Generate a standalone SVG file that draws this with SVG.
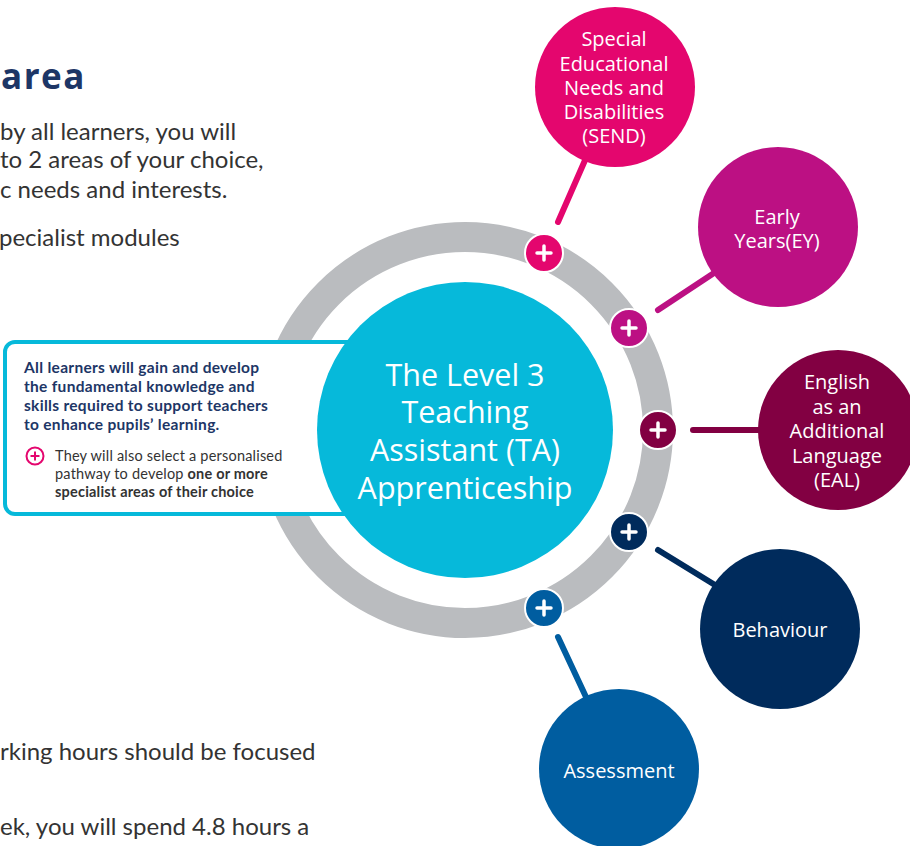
<svg xmlns="http://www.w3.org/2000/svg" width="910" height="846" viewBox="0 0 910 846">
  <style>
    .body { font-family: Lato, "Liberation Sans", sans-serif; font-size: 24px; fill: #333333; }
    .head { font-family: "Open Sans", "Liberation Sans", sans-serif; font-weight: 700; font-size: 35px; letter-spacing: 1.5px; fill: #1D3666; }
    .note-b { font-family: Lato, "Liberation Sans", sans-serif; font-weight: 700; font-size: 15.5px; letter-spacing: 0.3px; fill: #1D3666; }
    .note { font-family: Lato, "Liberation Sans", sans-serif; font-size: 14.5px; letter-spacing: 0.2px; fill: #333333; }
    .hub-text { font-family: "Open Sans", "Liberation Sans", sans-serif; font-size: 30.5px; fill: #ffffff; text-anchor: middle; }
    .leaf-text { font-family: "Open Sans", "Liberation Sans", sans-serif; font-weight: 500; font-size: 20px; fill: #ffffff; text-anchor: middle; }
    .link { stroke-width: 6; stroke-linecap: round; fill: none; }
    .plus { stroke: #ffffff; stroke-width: 2; }
    .plus-mark { stroke: #ffffff; stroke-width: 3.5; stroke-linecap: round; }
  </style>
  <defs>
    <g id="plus-glyph">
      <line class="plus-mark" x1="-7" y1="0" x2="7" y2="0"/>
      <line class="plus-mark" x1="0" y1="-7" x2="0" y2="7"/>
    </g>
  </defs>

  <rect width="910" height="846" fill="#ffffff"/>

  <!-- page copy behind the diagram -->
  <g id="page-text">
    <text class="head" x="1" y="89">area</text>
    <text class="body" x="0" y="140">by all learners, you will</text>
    <text class="body" x="0" y="168">to 2 areas of your choice,</text>
    <text class="body" x="0" y="198">c needs and interests.</text>
    <text class="body" x="-1" y="246">pecialist modules</text>
    <text class="body" x="0" y="760">rking hours should be focused</text>
    <text class="body" x="0" y="835">ek, you will spend 4.8 hours a</text>
  </g>

  <!-- grey ring -->
  <circle id="ring" cx="465" cy="430" r="193" fill="none" stroke="#BABCBF" stroke-width="30"/>

  <!-- callout box -->
  <g id="callout">
    <rect x="5" y="342" width="380" height="172" rx="10" fill="#ffffff" stroke="#06B9DA" stroke-width="4"/>
    <text class="note-b" x="24" y="373">All learners will gain and develop</text>
    <text class="note-b" x="24" y="392">the fundamental knowledge and</text>
    <text class="note-b" x="24" y="411">skills required to support teachers</text>
    <text class="note-b" x="24" y="430">to enhance pupils’ learning.</text>
    <circle cx="35" cy="456" r="8.5" fill="none" stroke="#E4066E" stroke-width="2"/>
    <line x1="30.5" y1="456" x2="39.5" y2="456" stroke="#E4066E" stroke-width="2"/>
    <line x1="35" y1="451.5" x2="35" y2="460.5" stroke="#E4066E" stroke-width="2"/>
    <text class="note" x="55" y="461">They will also select a personalised</text>
    <text class="note" x="55" y="479">pathway to develop <tspan font-weight="700">one or more</tspan></text>
    <text class="note" x="55" y="497"><tspan font-weight="700">specialist areas of their choice</tspan></text>
  </g>

  <!-- central hub -->
  <g id="hub">
    <circle cx="465" cy="430" r="148" fill="#06B9DA"/>
    <text class="hub-text" x="465" y="386">The Level 3</text>
    <text class="hub-text" x="465" y="423">Teaching</text>
    <text class="hub-text" x="465" y="461">Assistant (TA)</text>
    <text class="hub-text" x="465" y="499">Apprenticeship</text>
  </g>

  <!-- connectors -->
  <g id="connectors">
    <line class="link" stroke="#E4066E" x1="558" y1="222" x2="586" y2="158"/>
    <line class="link" stroke="#BC1083" x1="658" y1="310" x2="714" y2="273"/>
    <line class="link" stroke="#820042" x1="693" y1="430" x2="760" y2="430"/>
    <line class="link" stroke="#002B5C" x1="658" y1="550" x2="715" y2="585"/>
    <line class="link" stroke="#005DA0" x1="558" y1="637" x2="586" y2="697"/>
  </g>

  <!-- plus markers on the ring -->
  <g id="markers">
    <g transform="translate(544,253)"><circle class="plus" r="19" fill="#E4066E"/><use href="#plus-glyph"/></g>
    <g transform="translate(629,328)"><circle class="plus" r="19" fill="#BC1083"/><use href="#plus-glyph"/></g>
    <g transform="translate(658,430)"><circle class="plus" r="19" fill="#820042"/><use href="#plus-glyph"/></g>
    <g transform="translate(629,532)"><circle class="plus" r="19" fill="#002B5C"/><use href="#plus-glyph"/></g>
    <g transform="translate(544,608)"><circle class="plus" r="19" fill="#005DA0"/><use href="#plus-glyph"/></g>
  </g>

  <!-- specialist areas -->
  <g id="send">
    <circle cx="615" cy="87" r="80" fill="#E4066E"/>
    <text class="leaf-text" x="614" y="46">Special</text>
    <text class="leaf-text" x="614" y="71">Educational</text>
    <text class="leaf-text" x="614" y="95">Needs and</text>
    <text class="leaf-text" x="614" y="119">Disabilities</text>
    <text class="leaf-text" x="614" y="143">(SEND)</text>
  </g>
  <g id="early-years">
    <circle cx="778" cy="227" r="80" fill="#BC1083"/>
    <text class="leaf-text" x="777" y="224">Early</text>
    <text class="leaf-text" x="777" y="248">Years(EY)</text>
  </g>
  <g id="eal">
    <circle cx="838" cy="430" r="80" fill="#820042"/>
    <text class="leaf-text" x="837" y="389">English</text>
    <text class="leaf-text" x="837" y="414">as an</text>
    <text class="leaf-text" x="837" y="438">Additional</text>
    <text class="leaf-text" x="837" y="463">Language</text>
    <text class="leaf-text" x="837" y="487">(EAL)</text>
  </g>
  <g id="behaviour">
    <circle cx="780" cy="629" r="80" fill="#002B5C"/>
    <text class="leaf-text" x="780" y="637">Behaviour</text>
  </g>
  <g id="assessment">
    <circle cx="619" cy="769" r="80" fill="#005DA0"/>
    <text class="leaf-text" x="619" y="778">Assessment</text>
  </g>
</svg>
